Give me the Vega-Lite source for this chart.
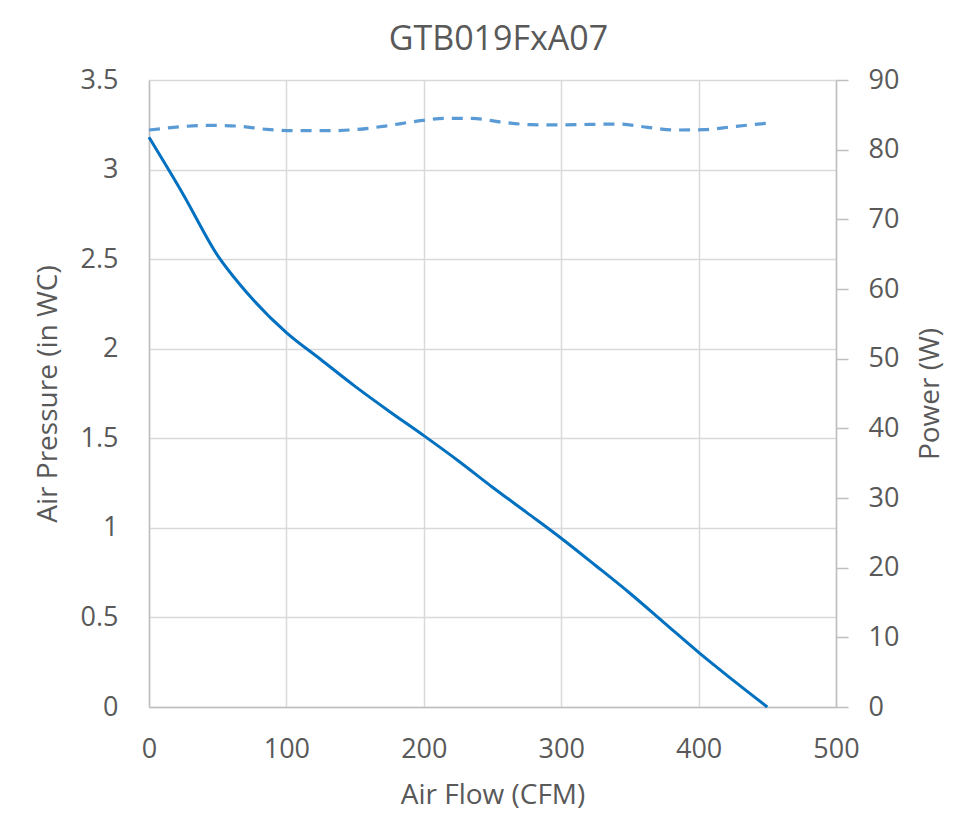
{
  "$schema": "https://vega.github.io/schema/vega-lite/v6.json",
  "autosize": "none",
  "width": 687,
  "height": 627,
  "padding": {"left": 149, "top": 80, "right": 139, "bottom": 113},
  "background": "white",
  "title": {"text": "GTB019FxA07", "fontSize": 34, "font": "Open Sans", "fontWeight": "normal", "color": "#595959", "offset": 9, "frame": "group", "anchor": "middle", "dx": 6},
  "config": {
    "view": {"stroke": null},
    "axis": {"labelFont": "Open Sans", "titleFont": "Open Sans", "labelColor": "#595959", "titleColor": "#595959", "labelFontSize": 27, "titleFontSize": 28, "titleFontWeight": "normal", "gridColor": "#D9D9D9", "gridWidth": 1.5, "domainColor": "#BFBFBF", "domainWidth": 1.5, "tickColor": "#BFBFBF", "tickWidth": 1.5}
  },
  "datasets": {
    "pressure": [
      {"flow": 0, "pressure": 3.18},
      {"flow": 25, "pressure": 2.86},
      {"flow": 50, "pressure": 2.52},
      {"flow": 66, "pressure": 2.36},
      {"flow": 75, "pressure": 2.28},
      {"flow": 100, "pressure": 2.09},
      {"flow": 125, "pressure": 1.94},
      {"flow": 150, "pressure": 1.79},
      {"flow": 175, "pressure": 1.65},
      {"flow": 200, "pressure": 1.515},
      {"flow": 225, "pressure": 1.375},
      {"flow": 250, "pressure": 1.227},
      {"flow": 275, "pressure": 1.085},
      {"flow": 300, "pressure": 0.942},
      {"flow": 325, "pressure": 0.79},
      {"flow": 350, "pressure": 0.635},
      {"flow": 375, "pressure": 0.47},
      {"flow": 400, "pressure": 0.305},
      {"flow": 425, "pressure": 0.15},
      {"flow": 450, "pressure": 0}
    ],
    "power": [
      {"flow": 0, "power": 82.82},
      {"flow": 45, "power": 83.49},
      {"flow": 64, "power": 83.39},
      {"flow": 86, "power": 82.91},
      {"flow": 108, "power": 82.72},
      {"flow": 130, "power": 82.72},
      {"flow": 152, "power": 82.91},
      {"flow": 172, "power": 83.39},
      {"flow": 194, "power": 84.06},
      {"flow": 215, "power": 84.5},
      {"flow": 235, "power": 84.5},
      {"flow": 256, "power": 83.97},
      {"flow": 278, "power": 83.59},
      {"flow": 298, "power": 83.55},
      {"flow": 321, "power": 83.63},
      {"flow": 342, "power": 83.68},
      {"flow": 363, "power": 83.2},
      {"flow": 383, "power": 82.82},
      {"flow": 404, "power": 82.87},
      {"flow": 425, "power": 83.3},
      {"flow": 449, "power": 83.78}
    ]
  },
  "layer": [
    {
      "data": {"name": "pressure"},
      "mark": {"type": "line", "color": "#0070C0", "strokeWidth": 3, "interpolate": "monotone"},
      "encoding": {
        "x": {"field": "flow", "type": "quantitative", "scale": {"domain": [0, 500], "nice": false}, "axis": {"title": "Air Flow (CFM)", "values": [0, 100, 200, 300, 400, 500], "ticks": false, "labelFlush": false, "labelPadding": 29, "titlePadding": 19, "grid": true}},
        "y": {"field": "pressure", "type": "quantitative", "scale": {"domain": [0, 3.5], "nice": false}, "axis": {"title": "Air Pressure (in WC)", "values": [0, 0.5, 1, 1.5, 2, 2.5, 3, 3.5], "format": "~g", "ticks": false, "labelFlush": false, "labelPadding": 31, "titlePadding": 18, "grid": true}}
      }
    },
    {
      "data": {"name": "power"},
      "mark": {"type": "line", "color": "#5B9BD5", "strokeWidth": 3.2, "strokeDash": [11, 8], "interpolate": "monotone"},
      "encoding": {
        "x": {"field": "flow", "type": "quantitative"},
        "y": {"field": "power", "type": "quantitative", "scale": {"domain": [0, 90], "nice": false}, "axis": {"orient": "right", "title": "Power (W)", "titleAngle": 270, "titleBaseline": "top", "values": [0, 10, 20, 30, 40, 50, 60, 70, 80, 90], "grid": false, "labelFlush": false, "tickSize": 12, "labelPadding": 20, "titlePadding": 18}}
      }
    }
  ],
  "resolve": {"scale": {"y": "independent"}}
}
